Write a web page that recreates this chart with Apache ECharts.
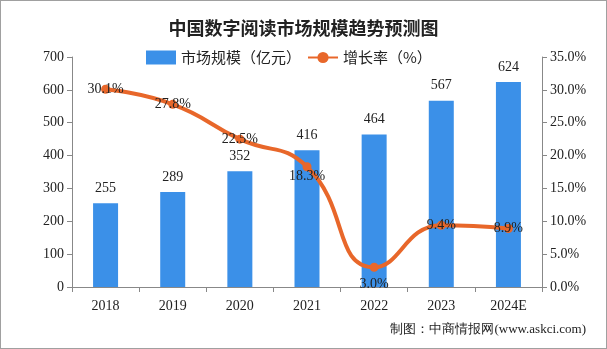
<!DOCTYPE html>
<html><head><meta charset="utf-8">
<script src="https://cdn.jsdelivr.net/npm/echarts@6/dist/echarts.min.js"></script>
<style>html,body{margin:0;padding:0;background:#fff}#c{width:607px;height:349px;box-sizing:border-box;border:1px solid #a0a0a0}</style>
</head><body><div id="c"></div>
<script>
const categories = ['2018','2019','2020','2021','2022','2023','2024E'];
const marketSize = [255, 289, 352, 416, 464, 567, 624];
const growthRate = [30.1, 27.8, 22.5, 18.3, 3.0, 9.4, 8.9];
const leftTicks = [0, 700, 100];
const rightTicks = [0, 35, 5];

const serif = '"Liberation Serif","DejaVu Serif",serif';
const chart = echarts.init(document.getElementById('c'));
const lineData = growthRate.map((v, i) => {
  const item = { value: v };
  if (i === 4) item.label = { position: 'bottom', distance: 6 };
  if (i === 3) item.label = { position: 'inside', offset: [0, 10] };
  return item;
});
chart.setOption({
  animation: false,
  title: {
    text: '中国数字阅读市场规模趋势预测图', left: 'center', top: 13,
    textStyle: { fontFamily: '"Noto Sans CJK SC"', fontSize: 18, fontWeight: 'bold', color: '#222' }
  },
  legend: {
    top: 44, left: 140, itemGap: 6, itemWidth: 30, itemHeight: 14,
    textStyle: { fontFamily: '"Noto Sans CJK SC"', fontSize: 15, color: '#222' },
    data: [{ name: '市场规模（亿元）', icon: 'rect' }, { name: '增长率（%）' }]
  },
  grid: { left: 71, right: 64, top: 56, bottom: 61 },
  xAxis: {
    type: 'category', data: categories,
    axisLine: { lineStyle: { color: '#888' } },
    axisTick: { show: true, alignWithLabel: false, lineStyle: { color: '#888' } },
    axisLabel: { fontFamily: serif, fontSize: 14, color: '#222', margin: 12 }
  },
  yAxis: [{
    type: 'value', min: leftTicks[0], max: leftTicks[1], interval: leftTicks[2],
    axisLine: { show: true, lineStyle: { color: '#888' } },
    axisTick: { show: true, lineStyle: { color: '#888' } },
    splitLine: { show: false },
    axisLabel: { fontFamily: serif, fontSize: 14, color: '#222' }
  }, {
    type: 'value', min: rightTicks[0], max: rightTicks[1], interval: rightTicks[2],
    axisLine: { show: true, lineStyle: { color: '#888' } },
    axisTick: { show: true, lineStyle: { color: '#888' } },
    splitLine: { show: false },
    axisLabel: { fontFamily: serif, fontSize: 14, color: '#222', formatter: v => v.toFixed(1) + '%' }
  }],
  series: [{
    name: '市场规模（亿元）', type: 'bar', data: marketSize, barWidth: 25,
    itemStyle: { color: '#3b90e8' },
    label: { show: true, position: 'top', distance: 8, fontFamily: serif, fontSize: 14, color: '#222' }
  }, {
    name: '增长率（%）', type: 'line', yAxisIndex: 1, data: lineData, smooth: true,
    symbol: 'circle', symbolSize: 9,
    lineStyle: { color: '#e8672a', width: 4 },
    itemStyle: { color: '#e8672a' },
    label: { show: true, position: 'inside', fontFamily: serif, fontSize: 14, color: '#222', formatter: p => p.value.toFixed(1) + '%' }
  }],
  graphic: [{
    type: 'text', right: 20, top: 322,
    style: { text: '制图：中商情报网(www.askci.com)', font: '13px ' + serif, fill: '#222' }
  }]
});
</script></body></html>
